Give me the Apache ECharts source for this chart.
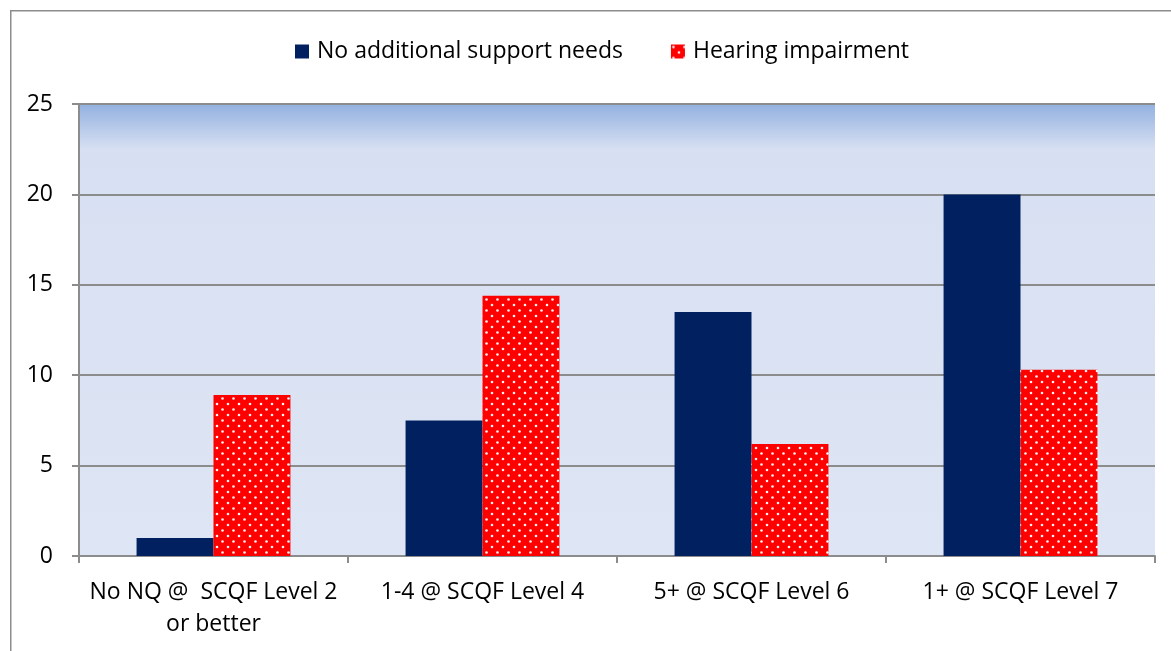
<!DOCTYPE html>
<html>
<head>
<meta charset="utf-8">
<script src="https://cdn.jsdelivr.net/npm/echarts@6/dist/echarts.min.js"></script>
<style>
html,body{margin:0;padding:0;background:#fff;}
#chart{width:1171px;height:651px;}
</style>
</head>
<body>
<div id="chart"></div>
<script>
const categories = ["No NQ @  SCQF Level 2\nor better", "1-4 @ SCQF Level 4", "5+ @ SCQF Level 6", "1+ @ SCQF Level 7"];
const seriesNames = ["No additional support needs", "Hearing impairment"];
const noSupport = [1.0, 7.5, 13.5, 20.0];
const hearing = [8.9, 14.4, 6.2, 10.3];
const yTicks = [0, 5, 10, 15, 20, 25];

function dotPattern() {
  const c = document.createElement('canvas');
  c.width = 11; c.height = 11;
  const g = c.getContext('2d');
  g.fillStyle = '#ff0000';
  g.fillRect(0, 0, 11, 11);
  g.fillStyle = 'rgba(255,255,255,0.95)';
  g.beginPath(); g.arc(2.5, 2.5, 1.3, 0, Math.PI * 2); g.fill();
  g.beginPath(); g.arc(8, 8, 1.3, 0, Math.PI * 2); g.fill();
  return c;
}
const pat = { image: dotPattern(), repeat: 'repeat' };

const chart = echarts.init(document.getElementById('chart'), null, { renderer: 'canvas' });
const FONT = '"Open Sans", "Liberation Sans", sans-serif';
chart.setOption({
  animation: false,
  textStyle: { fontFamily: FONT, color: '#000' },
  graphic: [{
    type: 'rect', left: 10, top: 10, z: -10,
    shape: { width: 1200, height: 700 },
    style: { fill: '#fff', stroke: '#8c8c8c', lineWidth: 1.5 }
  }],
  legend: {
    top: 35, left: 290,
    itemWidth: 14, itemHeight: 14, itemGap: 48,
    icon: 'rect',
    textStyle: { fontSize: 23, fontFamily: FONT, color: '#000', padding: [0, 0, 0, 3] },
    data: seriesNames
  },
  grid: {
    left: 79, right: 16, top: 104, bottom: 95,
    show: true, borderWidth: 0,
    backgroundColor: new echarts.graphic.LinearGradient(0, 0, 0, 1, [
      { offset: 0, color: '#93b1e0' },
      { offset: 0.1, color: '#d7e0f2' },
      { offset: 1, color: '#dee5f4' }
    ])
  },
  xAxis: {
    type: 'category', data: categories,
    axisLine: { lineStyle: { color: '#8c8c8c', width: 2 } },
    axisTick: { show: true, length: 7, lineStyle: { color: '#8c8c8c', width: 2 } },
    axisLabel: { interval: 0, fontSize: 23, lineHeight: 32, margin: 20, color: '#000', fontFamily: FONT }
  },
  yAxis: {
    type: 'value', min: 0, max: 25, interval: 5,
    axisLine: { show: true, lineStyle: { color: '#8c8c8c', width: 2 } },
    axisTick: { show: true, length: 7, lineStyle: { color: '#8c8c8c', width: 2 } },
    axisLabel: { fontSize: 23, margin: 26, color: '#000', fontFamily: FONT },
    splitLine: { lineStyle: { color: '#8c8c8c', width: 2 } }
  },
  series: [
    { name: seriesNames[0], type: 'bar', data: noSupport, barGap: '0%', barCategoryGap: '42.8%',
      itemStyle: { color: '#002060' } },
    { name: seriesNames[1], type: 'bar', data: hearing, barGap: '0%', barCategoryGap: '42.8%',
      itemStyle: { color: pat } }
  ]
});
</script>
</body>
</html>
